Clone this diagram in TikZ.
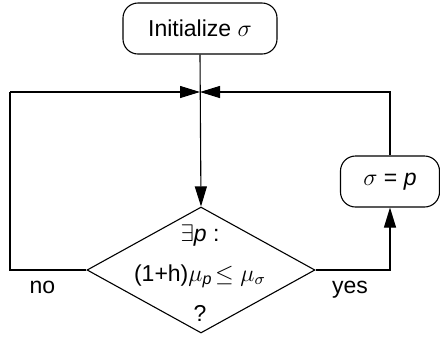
\documentclass[tikz,border=0pt]{standalone}
\usepackage{amsmath}
\usepackage{fontspec}
\setmainfont{Liberation Sans}
\usetikzlibrary{shapes.geometric}
\usetikzlibrary{arrows.meta}

\begin{document}
\begin{tikzpicture}[x=0.5pt,y=-0.5pt,font=\fontsize{11.5}{20}\selectfont,
    line width=0.55pt,
    flow/.style={-{Triangle[length=10pt,width=6pt]}},
    stepbox/.style={draw,rounded corners=7.5pt,inner sep=0pt},
    test/.style={draw,diamond,inner sep=0pt,minimum width=114pt,
      minimum height=63pt}]
    \useasboundingbox (0,0) rectangle (440,339);

    \node[stepbox,minimum width=77pt,minimum height=25.5pt] (init)
    at (200,28.5) {Initialize $\sigma$};
    \node[test] (cond) at (201,270) {};
    \node[align=center] (condtext) at (200,273)
    {$\exists$\textit{p} :\\(1+h)$\mu_{\textit{p}}\!\leq\mu_\sigma$\\?};
    \node[stepbox,minimum width=49.5pt,minimum height=25.5pt] (sigp)
    at (390,181.5) {$\sigma$ = \textit{p}};

    \coordinate (merge) at (200,92);
    \coordinate (back) at (10,92);

    \draw[flow] (init.south) -- (cond.north);
    \draw (cond.west) -| (back);
    \draw[flow] (back) -- (merge);
    \draw[flow] (cond.east) -| (sigp.south);
    \draw[flow] (sigp.north) |- (merge);

    \node[anchor=base] (no) at (42.5,293) {no};
    \node[anchor=base] (yes) at (350,293) {yes};

  \end{tikzpicture}
\end{document}
